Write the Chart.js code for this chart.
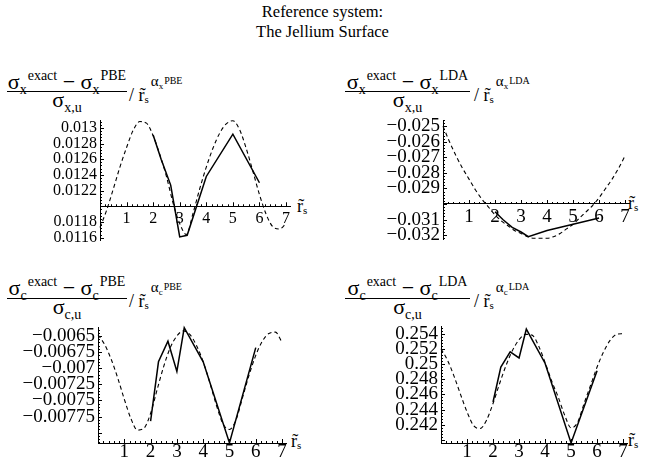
<!DOCTYPE html>
<html>
<head>
<meta charset="utf-8">
<script src="https://cdn.jsdelivr.net/npm/chart.js@4.4.1/dist/chart.umd.min.js"></script>
<style>
  body { margin: 0; width: 645px; height: 464px; position: relative; overflow: hidden; background: #fff; color: #000;
         font-family: 'Liberation Serif', 'DejaVu Serif', serif; }
  canvas { position: absolute; }
  .title { position: absolute; left: 0; top: 2px; width: 645px; text-align: center; font-size: 16.5px; line-height: 20px; }
  .f { position: absolute; white-space: nowrap; text-align: center; font-size: 22px; line-height: 20px; }
  .bar { position: absolute; height: 1px; background: #000; }
  .t { position: absolute; white-space: nowrap; font-size: 18px; line-height: 18px; }
  .sb { font-size: 14px; position: relative; top: 4.5px; line-height: 0; }
  .sp { font-size: 14px; position: relative; top: -9px; line-height: 0; margin-left: 1px; }
  .s1 { font-size: 11px; position: relative; top: 2px; line-height: 0; }
  .a { font-size: 15px; position: relative; top: -15px; line-height: 0; margin-left: 2px; }
  .a1 { font-size: 9px; position: relative; top: 2.5px; }
  .a2 { font-size: 10px; position: relative; top: -2.5px; margin-left: 1px; }
</style>
</head>
<body>
<div class="title">Reference system:<br>The Jellium Surface</div>

<!-- top left -->
<div class="f" style="left:7px;top:72px;width:120px">σ<span class="sb">x</span><span class="sp">exact</span> − σ<span class="sb">x</span><span class="sp">PBE</span></div>
<div class="bar" style="left:7px;top:91px;width:120px"></div>
<div class="f" style="left:7px;top:90px;width:120px">σ<span class="sb">x,u</span></div>
<div class="t" style="left:129px;top:86px">/ r&#771;<span class="s1">s</span><span class="a">α<span class="a1">x</span><span class="a2">PBE</span></span></div>

<!-- top right -->
<div class="f" style="left:345px;top:72px;width:125px">σ<span class="sb">x</span><span class="sp">exact</span> − σ<span class="sb">x</span><span class="sp">LDA</span></div>
<div class="bar" style="left:345px;top:91px;width:125px"></div>
<div class="f" style="left:345px;top:90px;width:125px">σ<span class="sb">x,u</span></div>
<div class="t" style="left:474px;top:86px">/ r&#771;<span class="s1">s</span><span class="a">α<span class="a1">x</span><span class="a2">LDA</span></span></div>

<!-- bottom left -->
<div class="f" style="left:7px;top:278px;width:120px">σ<span class="sb">c</span><span class="sp">exact</span> − σ<span class="sb">c</span><span class="sp">PBE</span></div>
<div class="bar" style="left:7px;top:298px;width:120px"></div>
<div class="f" style="left:7px;top:297px;width:120px">σ<span class="sb">c,u</span></div>
<div class="t" style="left:129px;top:292px">/ r&#771;<span class="s1">s</span><span class="a">α<span class="a1">c</span><span class="a2">PBE</span></span></div>

<!-- bottom right -->
<div class="f" style="left:345px;top:278px;width:125px">σ<span class="sb">c</span><span class="sp">exact</span> − σ<span class="sb">c</span><span class="sp">LDA</span></div>
<div class="bar" style="left:345px;top:298px;width:125px"></div>
<div class="f" style="left:345px;top:297px;width:125px">σ<span class="sb">c,u</span></div>
<div class="t" style="left:474px;top:292px">/ r&#771;<span class="s1">s</span><span class="a">α<span class="a1">c</span><span class="a2">LDA</span></span></div>

<!-- axis names -->
<div class="t" style="left:297px;top:197px">r&#771;<span class="s1">s</span></div>
<div class="t" style="left:628px;top:194px">r&#771;<span class="s1">s</span></div>
<div class="t" style="left:291px;top:432px">r&#771;<span class="s1">s</span></div>
<div class="t" style="left:628px;top:431px">r&#771;<span class="s1">s</span></div>

<canvas id="sxPbe" width="293" height="160" style="left:5px;top:104px"></canvas>
<canvas id="sxLda" width="289" height="159" style="left:348px;top:104px"></canvas>
<canvas id="scPbe" width="291" height="156" style="left:3px;top:311px"></canvas>
<canvas id="scLda" width="289" height="157" style="left:346px;top:310px"></canvas>

<script>
// r~s grid of the dashed (fitted) curves
const fitX = [0, 0.25, 0.5, 0.75, 1, 1.25, 1.5, 1.75, 2, 2.25, 2.5, 2.75, 3, 3.25, 3.5, 3.75,
              4, 4.25, 4.5, 4.75, 5, 5.25, 5.5, 5.75, 6, 6.25, 6.5, 6.75, 7];
// r~s of the jellium data (solid lines)
const dataX = [2, 2.3, 2.66, 3, 3.28, 4, 5, 6];
const xTicks = [1, 2, 3, 4, 5, 6, 7];

// sigma_x vs PBE
const sxPbeFit = [0.01173, 0.01195, 0.01222, 0.01250, 0.01275, 0.01297, 0.01308, 0.01306, 0.01290, 0.01266,
                  0.01238, 0.01204, 0.01178, 0.01164, 0.01191, 0.01222, 0.01250, 0.01274, 0.01293, 0.01305,
                  0.01309, 0.01298, 0.01274, 0.01245, 0.01215, 0.01190, 0.01174, 0.01171, 0.01178];
const sxPbeData = [0.01291, 0.01260, 0.01227, 0.01161, 0.01163, 0.01238, 0.01292, 0.01230];
const sxPbeTicks = [0.0116, 0.0118, 0.0122, 0.0124, 0.0126, 0.0128, 0.013];

// sigma_x vs LDA
const sxLdaFit = [-0.0250, -0.0260, -0.0269, -0.0277, -0.0284, -0.0291, -0.0297, -0.0302, -0.0307, -0.0311,
                  -0.0314, -0.0317, -0.0319, -0.0321, -0.0322, -0.0322, -0.0322, -0.0321, -0.0319, -0.0316,
                  -0.0313, -0.0309, -0.0305, -0.0301, -0.0296, -0.0290, -0.0284, -0.0277, -0.0269];
const sxLdaData = [-0.0305, -0.0310, -0.0315, -0.0318, -0.0321, -0.0317, -0.0313, -0.0309];
const sxLdaTicks = [-0.032, -0.031, -0.029, -0.028, -0.027, -0.026, -0.025];

// sigma_c vs PBE
const scPbeFit = [-0.00648, -0.00663, -0.00686, -0.00715, -0.00748, -0.00778, -0.00796, -0.00793, -0.00770, -0.00733,
                  -0.00697, -0.00668, -0.00650, -0.00642, -0.00648, -0.00665, -0.00690, -0.00722, -0.00757, -0.00786,
                  -0.00795, -0.00780, -0.00745, -0.00710, -0.00680, -0.00658, -0.00646, -0.00644, -0.00660];
const scPbeData = [-0.00782, -0.00690, -0.00658, -0.00705, -0.00637, -0.00690, -0.00816, -0.00668];
const scPbeTicks = [-0.00775, -0.0075, -0.00725, -0.007, -0.00675, -0.0065];

// sigma_c vs LDA
const scLdaFit = [0.2520, 0.2505, 0.2484, 0.2460, 0.2437, 0.2419, 0.2415, 0.2426, 0.2448, 0.2474,
                  0.2498, 0.2518, 0.2532, 0.2539, 0.2538, 0.2524, 0.2502, 0.2478, 0.2457, 0.2433,
                  0.2416, 0.2423, 0.2448, 0.2472, 0.2496, 0.2516, 0.2531, 0.2539, 0.2540];
const scLdaData = [0.2450, 0.2496, 0.2516, 0.2508, 0.2546, 0.2501, 0.2396, 0.2491];
const scLdaTicks = [0.242, 0.244, 0.246, 0.248, 0.25, 0.252, 0.254];

Chart.defaults.font.family = "'Liberation Serif', serif";
Chart.defaults.color = '#000';

const zip = (xs, ys) => xs.map((x, i) => ({ x: x, y: ys[i] }));
const fmt = v => (v < 0 ? '\u2212' + String(-v) : String(v));

// Mathematica style ticks: pointing into the plot, minor ones shorter
const axisTicks = {
  id: 'axisTicks',
  afterDatasetsDraw(chart, args, opts) {
    const { ctx } = chart;
    const xs = chart.scales.x, ys = chart.scales.y;
    const axisY = ys.getPixelForValue(opts.axisAt);
    const axisX = xs.getPixelForValue(0);
    ctx.save();
    ctx.strokeStyle = '#000';
    ctx.lineWidth = 1;
    ctx.beginPath();
    for (let i = 1; i * 0.2 <= xs.max + 1e-9; i++) {
      const px = Math.round(xs.getPixelForValue(i * 0.2)) + 0.5;
      ctx.moveTo(px, axisY);
      ctx.lineTo(px, axisY - (i % 5 === 0 ? 4 : 2));
    }
    const step = opts.step / 5;
    const k0 = Math.ceil(ys.min / step - 1e-6), k1 = Math.floor(ys.max / step + 1e-6);
    for (let k = k0; k <= k1; k++) {
      const py = Math.round(ys.getPixelForValue(k * step)) + 0.5;
      ctx.moveTo(axisX, py);
      ctx.lineTo(axisX + (Math.abs(k) % 5 === 0 ? 4 : 2), py);
    }
    ctx.stroke();
    ctx.restore();
  }
};

function panel(id, p) {
  return new Chart(document.getElementById(id), {
    type: 'line',
    data: {
      datasets: [
        { data: zip(fitX, p.fit), borderColor: '#000', borderWidth: 1.1, borderDash: [4, 3],
          cubicInterpolationMode: 'monotone', pointRadius: 0, clip: false },
        { data: zip(dataX, p.data), borderColor: '#000', borderWidth: 1.5, tension: 0,
          pointRadius: 0, clip: false }
      ]
    },
    options: {
      responsive: false,
      animation: false,
      events: [],
      layout: { padding: { left: 0, right: 8, top: 16, bottom: 24 } },
      plugins: {
        legend: { display: false },
        tooltip: { enabled: false },
        axisTicks: { axisAt: p.axisAt, step: p.step }
      },
      scales: {
        x: {
          type: 'linear', min: 0, max: 7.15,
          position: { y: p.axisAt },
          grid: { display: false, drawTicks: false },
          border: { display: true, color: '#000', width: 1 },
          afterFit: s => { s.height = 0; },
          afterBuildTicks: s => { s.ticks = xTicks.map(v => ({ value: v })); },
          ticks: { autoSkip: false, maxRotation: 0, padding: p.xPad, color: '#000',
                   font: { size: p.font, lineHeight: 1 }, callback: v => String(v) }
        },
        y: {
          type: 'linear', min: p.min, max: p.max, position: 'left',
          grid: { display: false, drawTicks: false },
          border: { display: true, color: '#000', width: 1 },
          afterFit: s => { s.width = 95; },
          afterBuildTicks: s => { s.ticks = p.ticks.map(v => ({ value: v })); },
          ticks: { autoSkip: false, padding: 3, color: '#000',
                   font: { size: p.font, lineHeight: 1 }, callback: v => fmt(v) }
        }
      }
    },
    plugins: [axisTicks]
  });
}

panel('sxPbe', { fit: sxPbeFit, data: sxPbeData, ticks: sxPbeTicks, min: 0.01157, max: 0.0131,
                 axisAt: 0.012, step: 0.0002, font: 16, xPad: 5 });
panel('sxLda', { fit: sxLdaFit, data: sxLdaData, ticks: sxLdaTicks, min: -0.03225, max: -0.0246,
                 axisAt: -0.030, step: 0.001, font: 19, xPad: 4 });
panel('scPbe', { fit: scPbeFit, data: scPbeData, ticks: scPbeTicks, min: -0.00816, max: -0.00636,
                 axisAt: -0.00816, step: 0.00025, font: 19, xPad: 0 });
panel('scLda', { fit: scLdaFit, data: scLdaData, ticks: scLdaTicks, min: 0.2396, max: 0.255,
                 axisAt: 0.2396, step: 0.002, font: 19, xPad: 0 });
</script>
</body>
</html>
